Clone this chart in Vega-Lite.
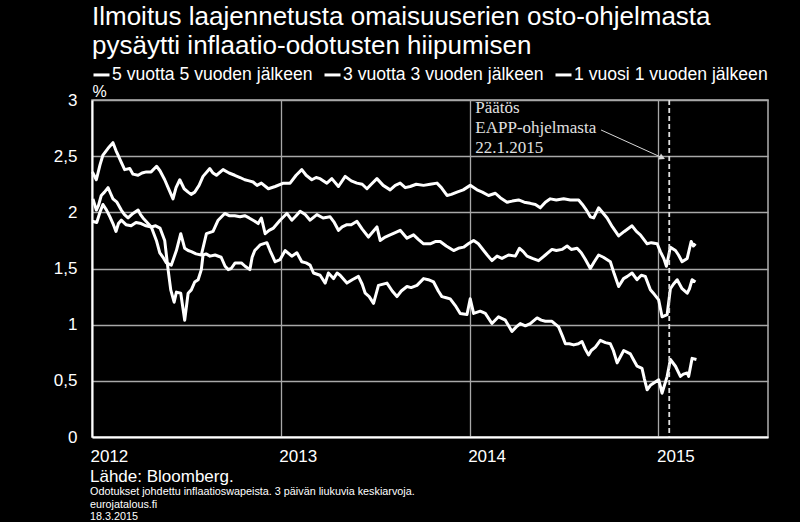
{
  "$schema": "https://vega.github.io/schema/vega-lite/v6.json",
  "width": 676,
  "height": 337,
  "autosize": {"type": "none"},
  "padding": {"left": 92, "top": 100, "right": 32, "bottom": 85},
  "background": "black",
  "config": {
    "font": "Liberation Sans",
    "view": {"stroke": "#b0b0b0", "strokeWidth": 1.5},
    "axis": {
      "domainColor": "white",
      "domainWidth": 2,
      "ticks": false,
      "labelColor": "white",
      "labelFontSize": 17,
      "labelFont": "Liberation Sans",
      "gridColor": "#a8a8a8",
      "gridWidth": 1.3,
      "titleColor": "white",
      "titleFontWeight": "normal"
    }
  },
  "title": {
    "text": "Lähde: Bloomberg.",
    "subtitle": ["Odotukset johdettu inflaatioswapeista. 3 päivän liukuvia keskiarvoja.", "eurojatalous.fi", "18.3.2015"],
    "orient": "bottom",
    "anchor": "start",
    "frame": "group",
    "font": "Liberation Sans",
    "fontSize": 17,
    "fontWeight": "normal",
    "color": "white",
    "subtitleFont": "Liberation Sans",
    "subtitleFontSize": 10.8,
    "subtitleColor": "white",
    "subtitleLineHeight": 12.5,
    "subtitlePadding": 0,
    "offset": 5,
    "dx": -2
  },
  "datasets": {
    "series": [
      {"s":"5y5y","t":2012.002,"v":2.36},{"s":"5y5y","t":2012.023,"v":2.29},{"s":"5y5y","t":2012.042,"v":2.42},{"s":"5y5y","t":2012.058,"v":2.51},{"s":"5y5y","t":2012.085,"v":2.57},{"s":"5y5y","t":2012.111,"v":2.62},{"s":"5y5y","t":2012.127,"v":2.55},{"s":"5y5y","t":2012.138,"v":2.51},{"s":"5y5y","t":2012.154,"v":2.45},{"s":"5y5y","t":2012.173,"v":2.38},{"s":"5y5y","t":2012.200,"v":2.39},{"s":"5y5y","t":2012.217,"v":2.34},{"s":"5y5y","t":2012.244,"v":2.33},{"s":"5y5y","t":2012.265,"v":2.35},{"s":"5y5y","t":2012.288,"v":2.36},{"s":"5y5y","t":2012.313,"v":2.36},{"s":"5y5y","t":2012.342,"v":2.41},{"s":"5y5y","t":2012.360,"v":2.37},{"s":"5y5y","t":2012.385,"v":2.29},{"s":"5y5y","t":2012.403,"v":2.22},{"s":"5y5y","t":2012.429,"v":2.12},{"s":"5y5y","t":2012.445,"v":2.22},{"s":"5y5y","t":2012.465,"v":2.29},{"s":"5y5y","t":2012.488,"v":2.21},{"s":"5y5y","t":2012.509,"v":2.18},{"s":"5y5y","t":2012.525,"v":2.16},{"s":"5y5y","t":2012.544,"v":2.18},{"s":"5y5y","t":2012.567,"v":2.24},{"s":"5y5y","t":2012.588,"v":2.32},{"s":"5y5y","t":2012.624,"v":2.39},{"s":"5y5y","t":2012.641,"v":2.35},{"s":"5y5y","t":2012.659,"v":2.33},{"s":"5y5y","t":2012.694,"v":2.38},{"s":"5y5y","t":2012.726,"v":2.35},{"s":"5y5y","t":2012.756,"v":2.33},{"s":"5y5y","t":2012.784,"v":2.31},{"s":"5y5y","t":2012.809,"v":2.29},{"s":"5y5y","t":2012.832,"v":2.28},{"s":"5y5y","t":2012.853,"v":2.27},{"s":"5y5y","t":2012.874,"v":2.24},{"s":"5y5y","t":2012.897,"v":2.26},{"s":"5y5y","t":2012.934,"v":2.21},{"s":"5y5y","t":2012.970,"v":2.23},{"s":"5y5y","t":2013.014,"v":2.26},{"s":"5y5y","t":2013.049,"v":2.26},{"s":"5y5y","t":2013.081,"v":2.33},{"s":"5y5y","t":2013.111,"v":2.38},{"s":"5y5y","t":2013.134,"v":2.33},{"s":"5y5y","t":2013.164,"v":2.29},{"s":"5y5y","t":2013.187,"v":2.31},{"s":"5y5y","t":2013.208,"v":2.30},{"s":"5y5y","t":2013.244,"v":2.26},{"s":"5y5y","t":2013.270,"v":2.30},{"s":"5y5y","t":2013.305,"v":2.23},{"s":"5y5y","t":2013.341,"v":2.32},{"s":"5y5y","t":2013.373,"v":2.28},{"s":"5y5y","t":2013.403,"v":2.26},{"s":"5y5y","t":2013.431,"v":2.25},{"s":"5y5y","t":2013.456,"v":2.21},{"s":"5y5y","t":2013.479,"v":2.25},{"s":"5y5y","t":2013.509,"v":2.30},{"s":"5y5y","t":2013.542,"v":2.24},{"s":"5y5y","t":2013.579,"v":2.20},{"s":"5y5y","t":2013.606,"v":2.24},{"s":"5y5y","t":2013.632,"v":2.26},{"s":"5y5y","t":2013.659,"v":2.22},{"s":"5y5y","t":2013.685,"v":2.23},{"s":"5y5y","t":2013.717,"v":2.25},{"s":"5y5y","t":2013.756,"v":2.24},{"s":"5y5y","t":2013.791,"v":2.25},{"s":"5y5y","t":2013.827,"v":2.26},{"s":"5y5y","t":2013.850,"v":2.22},{"s":"5y5y","t":2013.880,"v":2.15},{"s":"5y5y","t":2013.903,"v":2.16},{"s":"5y5y","t":2013.933,"v":2.18},{"s":"5y5y","t":2013.966,"v":2.20},{"s":"5y5y","t":2014.003,"v":2.24},{"s":"5y5y","t":2014.039,"v":2.20},{"s":"5y5y","t":2014.067,"v":2.18},{"s":"5y5y","t":2014.100,"v":2.15},{"s":"5y5y","t":2014.136,"v":2.17},{"s":"5y5y","t":2014.162,"v":2.13},{"s":"5y5y","t":2014.198,"v":2.09},{"s":"5y5y","t":2014.226,"v":2.10},{"s":"5y5y","t":2014.259,"v":2.11},{"s":"5y5y","t":2014.289,"v":2.09},{"s":"5y5y","t":2014.321,"v":2.08},{"s":"5y5y","t":2014.348,"v":2.07},{"s":"5y5y","t":2014.374,"v":2.04},{"s":"5y5y","t":2014.401,"v":2.09},{"s":"5y5y","t":2014.427,"v":2.12},{"s":"5y5y","t":2014.459,"v":2.11},{"s":"5y5y","t":2014.498,"v":2.12},{"s":"5y5y","t":2014.533,"v":2.11},{"s":"5y5y","t":2014.577,"v":2.11},{"s":"5y5y","t":2014.597,"v":2.07},{"s":"5y5y","t":2014.622,"v":2.01},{"s":"5y5y","t":2014.639,"v":1.96},{"s":"5y5y","t":2014.657,"v":1.95},{"s":"5y5y","t":2014.683,"v":2.04},{"s":"5y5y","t":2014.703,"v":2.00},{"s":"5y5y","t":2014.728,"v":1.95},{"s":"5y5y","t":2014.756,"v":1.87},{"s":"5y5y","t":2014.789,"v":1.79},{"s":"5y5y","t":2014.819,"v":1.83},{"s":"5y5y","t":2014.860,"v":1.88},{"s":"5y5y","t":2014.883,"v":1.83},{"s":"5y5y","t":2014.904,"v":1.80},{"s":"5y5y","t":2014.940,"v":1.72},{"s":"5y5y","t":2014.962,"v":1.73},{"s":"5y5y","t":2014.993,"v":1.72},{"s":"5y5y","t":2015.010,"v":1.65},{"s":"5y5y","t":2015.028,"v":1.59},{"s":"5y5y","t":2015.042,"v":1.52},{"s":"5y5y","t":2015.063,"v":1.69},{"s":"5y5y","t":2015.090,"v":1.66},{"s":"5y5y","t":2015.106,"v":1.62},{"s":"5y5y","t":2015.125,"v":1.56},{"s":"5y5y","t":2015.152,"v":1.59},{"s":"5y5y","t":2015.173,"v":1.74},{"s":"5y5y","t":2015.185,"v":1.70},{"s":"5y5y","t":2015.196,"v":1.72},
      {"s":"3y3y","t":2012.005,"v":2.12},{"s":"3y3y","t":2012.023,"v":2.02},{"s":"3y3y","t":2012.034,"v":2.06},{"s":"3y3y","t":2012.049,"v":2.15},{"s":"3y3y","t":2012.066,"v":2.18},{"s":"3y3y","t":2012.085,"v":2.22},{"s":"3y3y","t":2012.098,"v":2.17},{"s":"3y3y","t":2012.111,"v":2.12},{"s":"3y3y","t":2012.132,"v":2.09},{"s":"3y3y","t":2012.155,"v":2.02},{"s":"3y3y","t":2012.172,"v":1.98},{"s":"3y3y","t":2012.191,"v":1.95},{"s":"3y3y","t":2012.217,"v":1.99},{"s":"3y3y","t":2012.244,"v":2.02},{"s":"3y3y","t":2012.257,"v":1.98},{"s":"3y3y","t":2012.270,"v":1.95},{"s":"3y3y","t":2012.292,"v":1.91},{"s":"3y3y","t":2012.314,"v":1.87},{"s":"3y3y","t":2012.341,"v":1.75},{"s":"3y3y","t":2012.359,"v":1.64},{"s":"3y3y","t":2012.376,"v":1.60},{"s":"3y3y","t":2012.394,"v":1.55},{"s":"3y3y","t":2012.420,"v":1.53},{"s":"3y3y","t":2012.447,"v":1.66},{"s":"3y3y","t":2012.470,"v":1.81},{"s":"3y3y","t":2012.491,"v":1.68},{"s":"3y3y","t":2012.509,"v":1.66},{"s":"3y3y","t":2012.526,"v":1.65},{"s":"3y3y","t":2012.551,"v":1.63},{"s":"3y3y","t":2012.579,"v":1.62},{"s":"3y3y","t":2012.606,"v":1.81},{"s":"3y3y","t":2012.641,"v":1.83},{"s":"3y3y","t":2012.668,"v":1.93},{"s":"3y3y","t":2012.703,"v":1.99},{"s":"3y3y","t":2012.726,"v":1.97},{"s":"3y3y","t":2012.756,"v":1.97},{"s":"3y3y","t":2012.784,"v":1.96},{"s":"3y3y","t":2012.809,"v":1.97},{"s":"3y3y","t":2012.832,"v":1.95},{"s":"3y3y","t":2012.862,"v":1.92},{"s":"3y3y","t":2012.880,"v":1.90},{"s":"3y3y","t":2012.897,"v":1.95},{"s":"3y3y","t":2012.917,"v":1.81},{"s":"3y3y","t":2012.938,"v":1.84},{"s":"3y3y","t":2012.961,"v":1.86},{"s":"3y3y","t":2012.996,"v":1.93},{"s":"3y3y","t":2013.032,"v":1.99},{"s":"3y3y","t":2013.058,"v":1.93},{"s":"3y3y","t":2013.081,"v":1.97},{"s":"3y3y","t":2013.102,"v":2.01},{"s":"3y3y","t":2013.129,"v":1.98},{"s":"3y3y","t":2013.155,"v":1.93},{"s":"3y3y","t":2013.191,"v":1.98},{"s":"3y3y","t":2013.224,"v":1.95},{"s":"3y3y","t":2013.261,"v":1.96},{"s":"3y3y","t":2013.283,"v":1.91},{"s":"3y3y","t":2013.305,"v":1.84},{"s":"3y3y","t":2013.325,"v":1.87},{"s":"3y3y","t":2013.350,"v":1.89},{"s":"3y3y","t":2013.373,"v":1.89},{"s":"3y3y","t":2013.403,"v":1.92},{"s":"3y3y","t":2013.431,"v":1.85},{"s":"3y3y","t":2013.464,"v":1.78},{"s":"3y3y","t":2013.484,"v":1.82},{"s":"3y3y","t":2013.509,"v":1.87},{"s":"3y3y","t":2013.526,"v":1.75},{"s":"3y3y","t":2013.553,"v":1.78},{"s":"3y3y","t":2013.579,"v":1.80},{"s":"3y3y","t":2013.606,"v":1.82},{"s":"3y3y","t":2013.632,"v":1.84},{"s":"3y3y","t":2013.668,"v":1.77},{"s":"3y3y","t":2013.703,"v":1.80},{"s":"3y3y","t":2013.728,"v":1.76},{"s":"3y3y","t":2013.756,"v":1.72},{"s":"3y3y","t":2013.791,"v":1.72},{"s":"3y3y","t":2013.818,"v":1.74},{"s":"3y3y","t":2013.844,"v":1.74},{"s":"3y3y","t":2013.876,"v":1.70},{"s":"3y3y","t":2013.915,"v":1.66},{"s":"3y3y","t":2013.940,"v":1.68},{"s":"3y3y","t":2013.968,"v":1.69},{"s":"3y3y","t":2013.993,"v":1.72},{"s":"3y3y","t":2014.021,"v":1.75},{"s":"3y3y","t":2014.046,"v":1.72},{"s":"3y3y","t":2014.074,"v":1.66},{"s":"3y3y","t":2014.093,"v":1.62},{"s":"3y3y","t":2014.118,"v":1.57},{"s":"3y3y","t":2014.145,"v":1.61},{"s":"3y3y","t":2014.171,"v":1.59},{"s":"3y3y","t":2014.206,"v":1.62},{"s":"3y3y","t":2014.242,"v":1.61},{"s":"3y3y","t":2014.264,"v":1.68},{"s":"3y3y","t":2014.284,"v":1.65},{"s":"3y3y","t":2014.304,"v":1.61},{"s":"3y3y","t":2014.332,"v":1.59},{"s":"3y3y","t":2014.365,"v":1.57},{"s":"3y3y","t":2014.401,"v":1.62},{"s":"3y3y","t":2014.436,"v":1.67},{"s":"3y3y","t":2014.459,"v":1.66},{"s":"3y3y","t":2014.489,"v":1.67},{"s":"3y3y","t":2014.516,"v":1.70},{"s":"3y3y","t":2014.538,"v":1.67},{"s":"3y3y","t":2014.569,"v":1.68},{"s":"3y3y","t":2014.591,"v":1.64},{"s":"3y3y","t":2014.613,"v":1.58},{"s":"3y3y","t":2014.639,"v":1.50},{"s":"3y3y","t":2014.660,"v":1.56},{"s":"3y3y","t":2014.683,"v":1.62},{"s":"3y3y","t":2014.708,"v":1.60},{"s":"3y3y","t":2014.745,"v":1.56},{"s":"3y3y","t":2014.766,"v":1.45},{"s":"3y3y","t":2014.789,"v":1.34},{"s":"3y3y","t":2014.815,"v":1.41},{"s":"3y3y","t":2014.835,"v":1.43},{"s":"3y3y","t":2014.860,"v":1.46},{"s":"3y3y","t":2014.886,"v":1.40},{"s":"3y3y","t":2014.909,"v":1.44},{"s":"3y3y","t":2014.930,"v":1.43},{"s":"3y3y","t":2014.957,"v":1.31},{"s":"3y3y","t":2014.978,"v":1.27},{"s":"3y3y","t":2015.001,"v":1.22},{"s":"3y3y","t":2015.019,"v":1.07},{"s":"3y3y","t":2015.046,"v":1.09},{"s":"3y3y","t":2015.063,"v":1.32},{"s":"3y3y","t":2015.079,"v":1.36},{"s":"3y3y","t":2015.099,"v":1.40},{"s":"3y3y","t":2015.125,"v":1.32},{"s":"3y3y","t":2015.152,"v":1.28},{"s":"3y3y","t":2015.164,"v":1.32},{"s":"3y3y","t":2015.178,"v":1.40},{"s":"3y3y","t":2015.196,"v":1.38},
      {"s":"1y1y","t":2012.002,"v":1.92},{"s":"1y1y","t":2012.025,"v":1.91},{"s":"1y1y","t":2012.042,"v":2.00},{"s":"1y1y","t":2012.058,"v":2.07},{"s":"1y1y","t":2012.077,"v":2.02},{"s":"1y1y","t":2012.095,"v":1.96},{"s":"1y1y","t":2012.111,"v":1.90},{"s":"1y1y","t":2012.127,"v":1.83},{"s":"1y1y","t":2012.140,"v":1.90},{"s":"1y1y","t":2012.155,"v":1.93},{"s":"1y1y","t":2012.180,"v":1.89},{"s":"1y1y","t":2012.207,"v":1.88},{"s":"1y1y","t":2012.233,"v":1.91},{"s":"1y1y","t":2012.260,"v":1.90},{"s":"1y1y","t":2012.286,"v":1.88},{"s":"1y1y","t":2012.313,"v":1.87},{"s":"1y1y","t":2012.337,"v":1.88},{"s":"1y1y","t":2012.360,"v":1.86},{"s":"1y1y","t":2012.385,"v":1.75},{"s":"1y1y","t":2012.403,"v":1.49},{"s":"1y1y","t":2012.417,"v":1.31},{"s":"1y1y","t":2012.435,"v":1.20},{"s":"1y1y","t":2012.447,"v":1.29},{"s":"1y1y","t":2012.470,"v":1.28},{"s":"1y1y","t":2012.491,"v":1.04},{"s":"1y1y","t":2012.509,"v":1.28},{"s":"1y1y","t":2012.526,"v":1.31},{"s":"1y1y","t":2012.544,"v":1.38},{"s":"1y1y","t":2012.562,"v":1.40},{"s":"1y1y","t":2012.579,"v":1.49},{"s":"1y1y","t":2012.588,"v":1.62},{"s":"1y1y","t":2012.604,"v":1.63},{"s":"1y1y","t":2012.625,"v":1.61},{"s":"1y1y","t":2012.652,"v":1.62},{"s":"1y1y","t":2012.684,"v":1.60},{"s":"1y1y","t":2012.705,"v":1.52},{"s":"1y1y","t":2012.721,"v":1.49},{"s":"1y1y","t":2012.737,"v":1.50},{"s":"1y1y","t":2012.758,"v":1.55},{"s":"1y1y","t":2012.791,"v":1.55},{"s":"1y1y","t":2012.811,"v":1.52},{"s":"1y1y","t":2012.836,"v":1.49},{"s":"1y1y","t":2012.848,"v":1.60},{"s":"1y1y","t":2012.862,"v":1.66},{"s":"1y1y","t":2012.890,"v":1.71},{"s":"1y1y","t":2012.926,"v":1.73},{"s":"1y1y","t":2012.943,"v":1.66},{"s":"1y1y","t":2012.970,"v":1.56},{"s":"1y1y","t":2012.996,"v":1.58},{"s":"1y1y","t":2013.023,"v":1.66},{"s":"1y1y","t":2013.058,"v":1.61},{"s":"1y1y","t":2013.085,"v":1.64},{"s":"1y1y","t":2013.111,"v":1.56},{"s":"1y1y","t":2013.134,"v":1.55},{"s":"1y1y","t":2013.155,"v":1.53},{"s":"1y1y","t":2013.173,"v":1.46},{"s":"1y1y","t":2013.208,"v":1.44},{"s":"1y1y","t":2013.235,"v":1.37},{"s":"1y1y","t":2013.252,"v":1.46},{"s":"1y1y","t":2013.279,"v":1.41},{"s":"1y1y","t":2013.298,"v":1.46},{"s":"1y1y","t":2013.314,"v":1.44},{"s":"1y1y","t":2013.350,"v":1.37},{"s":"1y1y","t":2013.378,"v":1.40},{"s":"1y1y","t":2013.411,"v":1.43},{"s":"1y1y","t":2013.431,"v":1.36},{"s":"1y1y","t":2013.447,"v":1.28},{"s":"1y1y","t":2013.468,"v":1.25},{"s":"1y1y","t":2013.491,"v":1.19},{"s":"1y1y","t":2013.517,"v":1.35},{"s":"1y1y","t":2013.562,"v":1.37},{"s":"1y1y","t":2013.590,"v":1.30},{"s":"1y1y","t":2013.615,"v":1.25},{"s":"1y1y","t":2013.638,"v":1.30},{"s":"1y1y","t":2013.668,"v":1.34},{"s":"1y1y","t":2013.690,"v":1.33},{"s":"1y1y","t":2013.721,"v":1.35},{"s":"1y1y","t":2013.756,"v":1.41},{"s":"1y1y","t":2013.781,"v":1.40},{"s":"1y1y","t":2013.809,"v":1.38},{"s":"1y1y","t":2013.834,"v":1.30},{"s":"1y1y","t":2013.853,"v":1.25},{"s":"1y1y","t":2013.876,"v":1.24},{"s":"1y1y","t":2013.897,"v":1.23},{"s":"1y1y","t":2013.924,"v":1.17},{"s":"1y1y","t":2013.950,"v":1.10},{"s":"1y1y","t":2013.986,"v":1.09},{"s":"1y1y","t":2014.003,"v":1.23},{"s":"1y1y","t":2014.021,"v":1.10},{"s":"1y1y","t":2014.056,"v":1.12},{"s":"1y1y","t":2014.083,"v":1.10},{"s":"1y1y","t":2014.118,"v":1.01},{"s":"1y1y","t":2014.153,"v":1.07},{"s":"1y1y","t":2014.189,"v":1.04},{"s":"1y1y","t":2014.224,"v":0.94},{"s":"1y1y","t":2014.247,"v":0.98},{"s":"1y1y","t":2014.268,"v":1.01},{"s":"1y1y","t":2014.295,"v":0.99},{"s":"1y1y","t":2014.321,"v":1.01},{"s":"1y1y","t":2014.357,"v":1.06},{"s":"1y1y","t":2014.379,"v":1.04},{"s":"1y1y","t":2014.401,"v":1.03},{"s":"1y1y","t":2014.436,"v":1.03},{"s":"1y1y","t":2014.471,"v":0.98},{"s":"1y1y","t":2014.491,"v":0.90},{"s":"1y1y","t":2014.507,"v":0.83},{"s":"1y1y","t":2014.528,"v":0.83},{"s":"1y1y","t":2014.551,"v":0.82},{"s":"1y1y","t":2014.576,"v":0.83},{"s":"1y1y","t":2014.595,"v":0.85},{"s":"1y1y","t":2014.613,"v":0.78},{"s":"1y1y","t":2014.630,"v":0.73},{"s":"1y1y","t":2014.644,"v":0.77},{"s":"1y1y","t":2014.666,"v":0.80},{"s":"1y1y","t":2014.692,"v":0.86},{"s":"1y1y","t":2014.719,"v":0.84},{"s":"1y1y","t":2014.745,"v":0.83},{"s":"1y1y","t":2014.761,"v":0.77},{"s":"1y1y","t":2014.781,"v":0.66},{"s":"1y1y","t":2014.816,"v":0.77},{"s":"1y1y","t":2014.851,"v":0.74},{"s":"1y1y","t":2014.867,"v":0.69},{"s":"1y1y","t":2014.887,"v":0.63},{"s":"1y1y","t":2014.913,"v":0.61},{"s":"1y1y","t":2014.925,"v":0.52},{"s":"1y1y","t":2014.940,"v":0.42},{"s":"1y1y","t":2014.957,"v":0.46},{"s":"1y1y","t":2014.975,"v":0.48},{"s":"1y1y","t":2015.001,"v":0.51},{"s":"1y1y","t":2015.019,"v":0.39},{"s":"1y1y","t":2015.046,"v":0.54},{"s":"1y1y","t":2015.063,"v":0.69},{"s":"1y1y","t":2015.090,"v":0.63},{"s":"1y1y","t":2015.116,"v":0.54},{"s":"1y1y","t":2015.132,"v":0.56},{"s":"1y1y","t":2015.152,"v":0.57},{"s":"1y1y","t":2015.160,"v":0.54},{"s":"1y1y","t":2015.178,"v":0.70},{"s":"1y1y","t":2015.201,"v":0.69}
    ],
    "note": [
      {"t": 2014.03, "v": 2.884, "label": "Päätös"},
      {"t": 2014.03, "v": 2.706, "label": "EAPP-ohjelmasta"},
      {"t": 2014.03, "v": 2.528, "label": "22.1.2015"}
    ],
    "arrow": [
      {"t": 2014.696, "v": 2.733, "t2": 2015.02, "v2": 2.486}
    ],
    "decision": [
      {"t": 2015.057}
    ]
  },
  "layer": [
    {
      "data": {"name": "series"},
      "mark": {"type": "line", "strokeWidth": 3, "strokeJoin": "round"},
      "encoding": {
        "x": {
          "field": "t", "type": "quantitative",
          "scale": {"domain": [2012, 2015.58], "nice": false, "zero": false},
          "axis": {"values": [2012, 2013, 2014, 2015], "format": "d", "title": null, "labelAlign": "left", "labelPadding": 11, "labelOffset": -2, "labelFlush": false}
        },
        "y": {
          "field": "v", "type": "quantitative",
          "scale": {"domain": [0, 3], "nice": false},
          "axis": {"values": [0, 0.5, 1, 1.5, 2, 2.5, 3], "labelExpr": "replace(format(datum.value, '~g'), '.', ',')", "labelPadding": 15, "title": "%", "titleAngle": 0, "titleAlign": "left", "titleBaseline": "alphabetic", "titleX": 0, "titleY": -4, "titleFontSize": 16, "titleFont": "Liberation Sans"}
        },
        "color": {
          "field": "s", "type": "nominal",
          "scale": {"domain": ["5y5y", "3y3y", "1y1y"], "range": ["#ffffff", "#ffffff", "#ffffff"]},
          "legend": {
            "title": ["Ilmoitus laajennetusta omaisuuserien osto-ohjelmasta", "pysäytti inflaatio-odotusten hiipumisen"],
            "orient": "none",
            "legendX": 0,
            "legendY": -96,
            "direction": "horizontal",
            "titleOrient": "top",
            "titleAnchor": "start",
            "titleFont": "Liberation Sans",
            "titleFontSize": 26,
            "titleFontWeight": "normal",
            "titleColor": "white",
            "titleLimit": 2000,
            "titleLineHeight": 29,
            "titlePadding": 6,
            "labelExpr": "datum.label == '5y5y' ? '5 vuotta 5 vuoden jälkeen' : datum.label == '3y3y' ? '3 vuotta 3 vuoden jälkeen' : '1 vuosi 1 vuoden jälkeen'",
            "labelColor": "white",
            "labelFont": "Liberation Sans",
            "labelFontSize": 17.6,
            "labelLimit": 400,
            "labelOffset": 1,
            "columnPadding": 5,
            "symbolType": "stroke",
            "symbolStrokeWidth": 3,
            "symbolSize": 256,
            "symbolStrokeColor": "white",
            "padding": 0
          }
        }
      }
    },
    {
      "data": {"name": "decision"},
      "mark": {"type": "rule", "color": "#e0e0e0", "strokeWidth": 1.8, "strokeDash": [5, 3]},
      "encoding": {"x": {"field": "t", "type": "quantitative"}}
    },
    {
      "data": {"name": "arrow"},
      "mark": {"type": "rule", "color": "#d8d8d8", "strokeWidth": 1},
      "encoding": {
        "x": {"field": "t", "type": "quantitative"},
        "y": {"field": "v", "type": "quantitative"},
        "x2": {"field": "t2"},
        "y2": {"field": "v2"}
      }
    },
    {
      "data": {"name": "arrow"},
      "mark": {"type": "point", "shape": "triangle-right", "filled": true, "color": "#d8d8d8", "size": 45, "angle": 24, "opacity": 1},
      "encoding": {
        "x": {"field": "t2", "type": "quantitative"},
        "y": {"field": "v2", "type": "quantitative"}
      }
    },
    {
      "data": {"name": "note"},
      "mark": {"type": "text", "font": "Liberation Serif", "fontSize": 17, "color": "#e0e0e0", "align": "left", "baseline": "alphabetic"},
      "encoding": {
        "x": {"field": "t", "type": "quantitative"},
        "y": {"field": "v", "type": "quantitative"},
        "text": {"field": "label"}
      }
    }
  ]
}
